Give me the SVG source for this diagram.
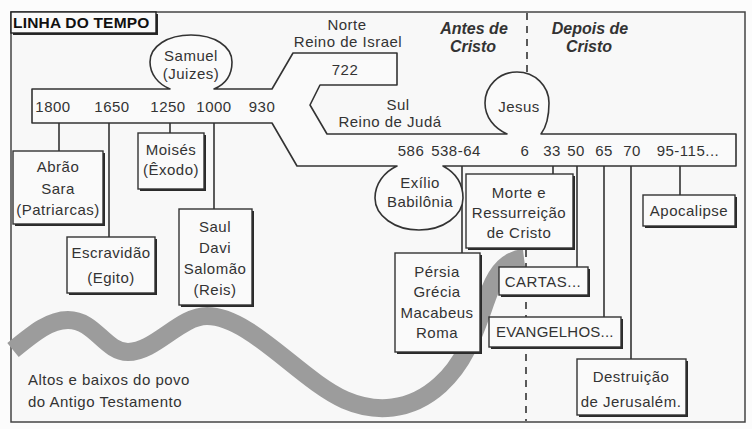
<svg xmlns="http://www.w3.org/2000/svg" width="752" height="429" viewBox="0 0 752 429">
  <defs>
    <style>
      .t { font-family: "Liberation Sans", Arial, sans-serif; font-size: 15px; fill: #333; letter-spacing: 0.5px; text-anchor: middle; }
      .tl { text-anchor: start; }
      .hd { font-family: "Liberation Sans", Arial, sans-serif; font-size: 16px; font-weight: bold; font-style: italic; fill: #333; text-anchor: middle; }
      .title { font-family: "Liberation Sans", Arial, sans-serif; font-size: 15.5px; font-weight: bold; fill: #111; letter-spacing: 0.2px; }
      .box { fill: #fafafa; stroke: #333; stroke-width: 1.4; }
      .sh { fill: #2a2a2a; }
      .ln { stroke: #333; stroke-width: 1.6; fill: none; }
      .dash { stroke: #333; stroke-width: 1.6; stroke-dasharray: 7 6; fill: none; }
      .band { fill: #fafafa; stroke: #333; stroke-width: 1.6; stroke-linejoin: round; }
    </style>
  </defs>

  <rect x="0" y="0" width="752" height="429" fill="#fcfcfc"/>
  <rect x="11" y="12" width="734" height="410" fill="#f8f8f8" stroke="#444" stroke-width="1.5"/>

  <!-- wave -->
  <path id="wave" d="M 13 350 C 35 332, 50 320, 68 320 C 95 320, 105 352, 128 352 C 155 352, 180 316, 207 316 C 250 316, 300 380, 345 400 C 375 413, 410 412, 440 385 C 470 358, 478 320, 490 290 C 498 270, 508 260, 524 258" fill="none" stroke="#9c9c9c" stroke-width="18"/>
  <text class="t tl" x="28" y="385">Altos e baixos do povo</text>
  <text class="t tl" x="28" y="407">do Antigo Testamento</text>

  <!-- title -->
  <g id="title">
    <rect x="13" y="14" width="145" height="21" class="sh"/>
    <rect x="11" y="12" width="145" height="21" fill="#fafafa" stroke="#222" stroke-width="1.4"/>
    <text class="title" x="13" y="28">LINHA DO TEMPO</text>
  </g>

  <!-- Antes / Depois -->
  <g id="headers">
    <text class="hd" x="474" y="34">Antes de</text>
    <text class="hd" x="473" y="52">Cristo</text>
    <text class="hd" x="590" y="34">Depois de</text>
    <text class="hd" x="589" y="52">Cristo</text>
  </g>

  <!-- connectors -->
  <g id="connectors">
    <path class="dash" d="M 527 13 L 527 72"/>
    <path class="dash" d="M 526 250 L 526 421"/>
    <path class="ln" d="M 59 123 L 59 151"/>
    <path class="ln" d="M 109 123 L 109 237"/>
    <path class="ln" d="M 170 123 L 170 133"/>
    <path class="ln" d="M 214 123 L 214 209"/>
    <path class="ln" d="M 462 166 L 462 253"/>
    <path class="ln" d="M 553 166 L 553 174"/>
    <path class="ln" d="M 577 166 L 577 267"/>
    <path class="ln" d="M 604 166 L 604 317"/>
    <path class="ln" d="M 631 166 L 631 359"/>
    <path class="ln" d="M 680 166 L 680 195"/>
  </g>

  <!-- timeline band with bubbles -->
  <g id="timeline">
    <path class="band" d="M 170 89 L 32 89 L 32 123 L 272 123 L 297 166 L 397 166 C 384 172, 375 184, 375 198 C 375 216, 395 230, 419 230 C 443 230, 463 216, 463 198 C 463 184, 456 173, 443 166 L 736 166 L 736 134 L 541 134 C 547 126, 549 115, 549 103 C 549 86, 535 72, 517 72 C 499 72, 485 86, 485 103 C 485 117, 494 128, 507 134 L 327 134 L 310 105 L 320 85 L 397 85 L 397 53 L 293 53 L 272 89 L 214 89 C 226 84, 232 74, 232 62 C 232 46, 214 35, 191 35 C 168 35, 150 46, 150 62 C 150 74, 158 84, 170 89 Z"/>
    <text class="t" x="191" y="61">Samuel</text>
    <text class="t" x="191" y="79">(Juizes)</text>
    <text class="t" x="347" y="30">Norte</text>
    <text class="t" x="348" y="47">Reino de Israel</text>
    <text class="t" x="345" y="75">722</text>
    <text class="t" x="398" y="110">Sul</text>
    <text class="t" x="390" y="127">Reino de Judá</text>
    <text class="t" x="519" y="112">Jesus</text>
    <text class="t" x="420" y="188">Exílio</text>
    <text class="t" x="420" y="207">Babilônia</text>
    <text class="t" x="53" y="112">1800</text>
    <text class="t" x="112" y="112">1650</text>
    <text class="t" x="168" y="112">1250</text>
    <text class="t" x="214" y="112">1000</text>
    <text class="t" x="262" y="112">930</text>
    <text class="t" x="411" y="156">586</text>
    <text class="t" x="456" y="156">538-64</text>
    <text class="t" x="525" y="156">6</text>
    <text class="t" x="552" y="156">33</text>
    <text class="t" x="576" y="156">50</text>
    <text class="t" x="604" y="156">65</text>
    <text class="t" x="632" y="156">70</text>
    <text class="t" x="688" y="156">95-115...</text>
  </g>

  <!-- boxes -->
  <g id="abrao">
    <rect x="15" y="153" width="90" height="73" class="sh"/>
    <rect x="13" y="151" width="90" height="73" class="box"/>
    <text class="t" x="58" y="172">Abrão</text>
    <text class="t" x="58" y="194">Sara</text>
    <text class="t" x="58" y="215">(Patriarcas)</text>
  </g>
  <g id="escravidao">
    <rect x="69" y="239" width="88" height="56" class="sh"/>
    <rect x="67" y="237" width="88" height="56" class="box"/>
    <text class="t" x="111" y="258">Escravidão</text>
    <text class="t" x="111" y="283">(Egito)</text>
  </g>
  <g id="moises">
    <rect x="140" y="135" width="66" height="56" class="sh"/>
    <rect x="138" y="133" width="66" height="56" class="box"/>
    <text class="t" x="171" y="155">Moisés</text>
    <text class="t" x="171" y="175">(Êxodo)</text>
  </g>
  <g id="reis">
    <rect x="181" y="211" width="73" height="96" class="sh"/>
    <rect x="179" y="209" width="73" height="96" class="box"/>
    <text class="t" x="215" y="232">Saul</text>
    <text class="t" x="215" y="253">Davi</text>
    <text class="t" x="215" y="274">Salomão</text>
    <text class="t" x="215" y="295">(Reis)</text>
  </g>
  <g id="persia">
    <rect x="397" y="255" width="85" height="99" class="sh"/>
    <rect x="395" y="253" width="85" height="99" class="box"/>
    <text class="t" x="437" y="277">Pérsia</text>
    <text class="t" x="437" y="297">Grécia</text>
    <text class="t" x="437" y="318">Macabeus</text>
    <text class="t" x="437" y="338">Roma</text>
  </g>
  <g id="morte">
    <rect x="468" y="176" width="107" height="74" class="sh"/>
    <rect x="466" y="174" width="107" height="74" class="box"/>
    <text class="t" x="519" y="198">Morte e</text>
    <text class="t" x="519" y="218">Ressurreição</text>
    <text class="t" x="519" y="238">de Cristo</text>
  </g>
  <g id="cartas">
    <rect x="501" y="269" width="89" height="28" class="sh"/>
    <rect x="499" y="267" width="89" height="28" class="box"/>
    <text class="t" x="543" y="287">CARTAS...</text>
  </g>
  <g id="evangelhos">
    <rect x="491" y="319" width="132" height="30" class="sh"/>
    <rect x="489" y="317" width="132" height="30" class="box"/>
    <text class="t" x="555" y="337" textLength="118">EVANGELHOS...</text>
  </g>
  <g id="destruicao">
    <rect x="579" y="361" width="109" height="56" class="sh"/>
    <rect x="577" y="359" width="109" height="56" class="box"/>
    <text class="t" x="631" y="382">Destruição</text>
    <text class="t" x="631" y="407">de Jerusalém.</text>
  </g>
  <g id="apocalipse">
    <rect x="645" y="197" width="92" height="31" class="sh"/>
    <rect x="643" y="195" width="92" height="31" class="box"/>
    <text class="t" x="689" y="216">Apocalipse</text>
  </g>
</svg>
